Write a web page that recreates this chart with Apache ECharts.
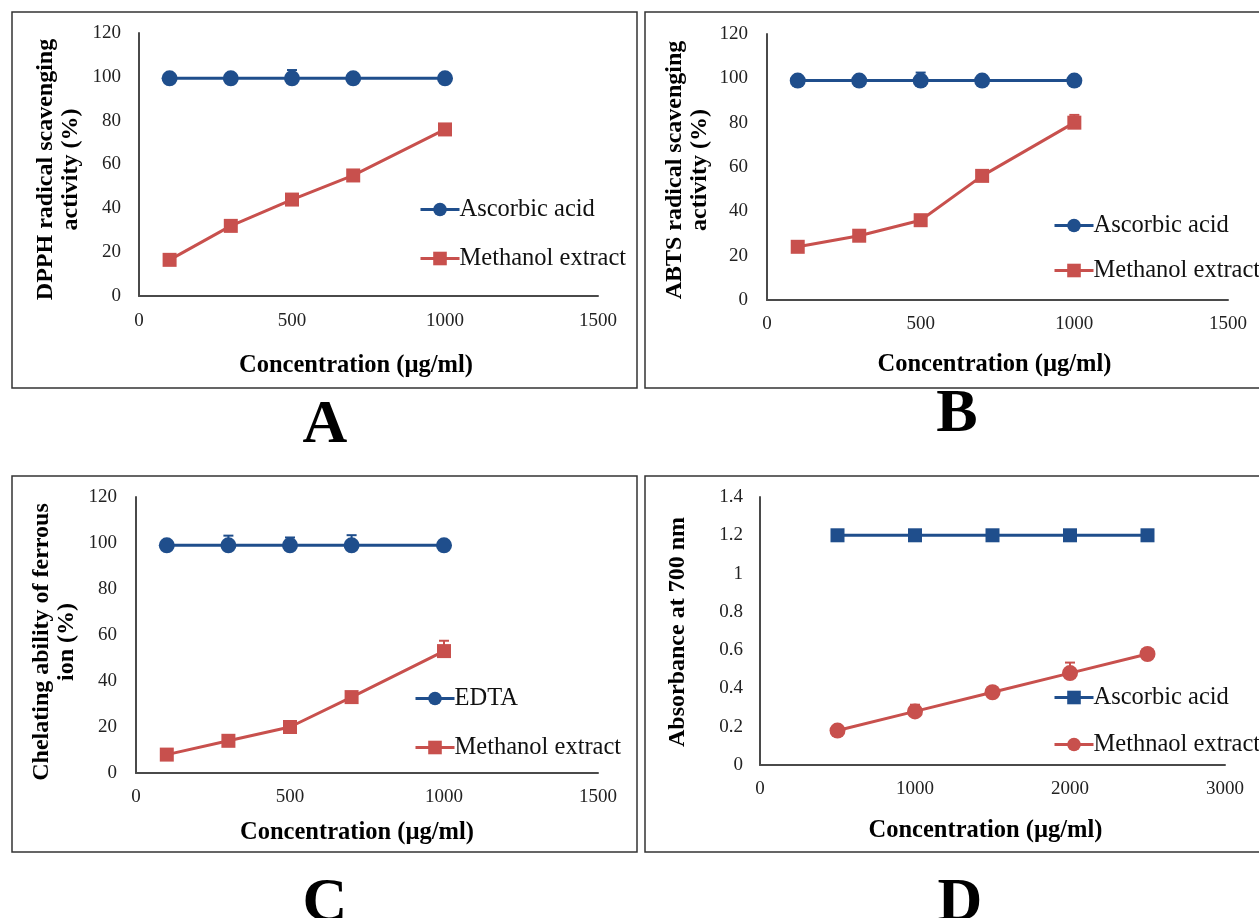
<!DOCTYPE html>
<html>
<head>
<meta charset="utf-8">
<script src="https://cdn.jsdelivr.net/npm/echarts@6/dist/echarts.min.js"></script>
<style>
html,body{margin:0;padding:0;background:#fff;}
#chart{width:1259px;height:918px;}
</style>
</head>
<body>
<div id="chart"></div>
<script>
// ---------- Data ----------
const concABC = [100, 300, 500, 700, 1000];
const concD = [500, 1000, 1500, 2000, 2500];

// Panel A: DPPH
const dpphAscorbic = [99.3, 99.3, 99.3, 99.3, 99.3];
const dpphAscorbicErr = [0.3, 0.3, 3.8, 0.3, 0.3];
const dpphMethanol = [16.5, 32, 44, 55, 76];
const dpphMethanolErr = [0.5, 1, 1, 1, 1];

// Panel B: ABTS
const abtsAscorbic = [99, 99, 99, 99, 99];
const abtsAscorbicErr = [0.3, 0.3, 3.6, 0.3, 0.3];
const abtsMethanol = [24, 29, 36, 56, 80];
const abtsMethanolErr = [1, 0.8, 1, 2.5, 3.5];

// Panel C: Chelating ability of ferrous ion
const chelEDTA = [99, 99, 99, 99, 99];
const chelEDTAErr = [0.3, 4.2, 3.4, 4.4, 0.3];
const chelMethanol = [8, 14, 20, 33, 53];
const chelMethanolErr = [0.5, 1, 0.8, 1.5, 4.5];

// Panel D: Absorbance at 700 nm
const redAscorbic = [1.2, 1.2, 1.2, 1.2, 1.2];
const redAscorbicErr = [0.005, 0.015, 0.005, 0.005, 0.005];
const redMethanol = [0.18, 0.28, 0.38, 0.48, 0.58];
const redMethanolErr = [0.005, 0.035, 0.01, 0.055, 0.01];

const xTicksABC = {min: 0, max: 1500, interval: 500};
const xTicksD = {min: 0, max: 3000, interval: 1000};
const yTicksPct = {min: 0, max: 120, interval: 20};
const yTicksAbs = {min: 0, max: 1.4, interval: 0.2};

const xTitle = 'Concentration (µg/ml)';
const yTitles = ['DPPH radical scavenging\nactivity (%)', 'ABTS radical scavenging\nactivity (%)', 'Chelating ability of ferrous\nion (%)', 'Absorbance at 700 nm'];
const panelLetters = ['A', 'B', 'C', 'D'];

// ---------- Style ----------
const BLUE = '#1F4E8C';
const RED = '#C8504D';
const AXIS = '#4a4a4a';
const FONT = '"Liberation Serif", "Times New Roman", serif';

const grids = [
  {left: 139, top: 33, width: 459, height: 263},
  {left: 767, top: 34, width: 461, height: 266},
  {left: 136, top: 497, width: 462, height: 276},
  {left: 760, top: 497, width: 465, height: 268}
];
const xNameGaps = [57, 52, 47, 53];
const xLabelMargins = [16, 15, 15, 15];
const yLabelMargins = [18, 19, 19, 17];
const yNameGaps = [56, 55, 57, 70];
const xNamePad = [[0, 25, 0, 0], [0, 6, 0, 0], [0, 20, 0, 0], [0, 14, 0, 0]];
const yNamePad = [[0, 10, 0, 0], [0, 6, 0, 0], [0, 14, 0, 0], [0, 2, 0, 0]];

function pairs(xs, ys) { return xs.map((x, i) => [x, ys[i]]); }
function errData(xs, ys, es) { return xs.map((x, i) => [x, ys[i], ys[i] + es[i]]); }
function fmt(v) { return String(Math.round(v * 100) / 100); }

const xAxes = grids.map((g, i) => Object.assign({
  type: 'value', gridIndex: i,
  name: xTitle, nameLocation: 'middle', nameGap: xNameGaps[i],
  nameTextStyle: {fontFamily: FONT, fontWeight: 'bold', fontSize: 24.5, color: '#000', padding: xNamePad[i]},
  axisLine: {show: true, lineStyle: {color: AXIS, width: 2}},
  axisTick: {show: false},
  splitLine: {show: false},
  axisLabel: {fontFamily: FONT, fontSize: 19, color: '#222', margin: xLabelMargins[i], formatter: fmt}
}, i === 3 ? xTicksD : xTicksABC));

const yAxes = grids.map((g, i) => Object.assign({
  type: 'value', gridIndex: i,
  name: yTitles[i], nameLocation: 'middle', nameGap: yNameGaps[i],
  nameTextStyle: {fontFamily: FONT, fontWeight: 'bold', fontSize: 24, color: '#000', lineHeight: 25, padding: yNamePad[i]},
  axisLine: {show: true, lineStyle: {color: AXIS, width: 2}},
  axisTick: {show: false},
  splitLine: {show: false},
  axisLabel: {fontFamily: FONT, fontSize: 19, color: '#222', margin: yLabelMargins[i], formatter: fmt}
}, i === 3 ? yTicksAbs : yTicksPct));

function lineSeries(id, name, idx, xs, ys, color, symbol, size) {
  return {
    id: id, name: name, type: 'line', xAxisIndex: idx, yAxisIndex: idx,
    data: pairs(xs, ys), symbol: symbol, symbolSize: size,
    lineStyle: {color: color, width: 3}, itemStyle: {color: color},
    z: 3, animation: false
  };
}
function errSeries(idx, xs, ys, es, color) {
  return {
    type: 'custom', xAxisIndex: idx, yAxisIndex: idx, z: 2, animation: false,
    data: errData(xs, ys, es),
    renderItem: function (params, api) {
      const lo = api.coord([api.value(0), api.value(1)]);
      const hi = api.coord([api.value(0), api.value(2)]);
      const w = 5;
      const st = {stroke: color, lineWidth: 2};
      return {type: 'group', children: [
        {type: 'line', shape: {x1: lo[0], y1: lo[1], x2: hi[0], y2: hi[1]}, style: st},
        {type: 'line', shape: {x1: hi[0] - w, y1: hi[1], x2: hi[0] + w, y2: hi[1]}, style: st}
      ]};
    }
  };
}

const series = [
  errSeries(0, concABC, dpphAscorbic, dpphAscorbicErr, BLUE),
  errSeries(0, concABC, dpphMethanol, dpphMethanolErr, RED),
  lineSeries('a1', 'A|Ascorbic acid', 0, concABC, dpphAscorbic, BLUE, 'circle', 16),
  lineSeries('a2', 'A|Methanol extract', 0, concABC, dpphMethanol, RED, 'rect', 14),
  errSeries(1, concABC, abtsAscorbic, abtsAscorbicErr, BLUE),
  errSeries(1, concABC, abtsMethanol, abtsMethanolErr, RED),
  lineSeries('b1', 'B|Ascorbic acid', 1, concABC, abtsAscorbic, BLUE, 'circle', 16),
  lineSeries('b2', 'B|Methanol extract', 1, concABC, abtsMethanol, RED, 'rect', 14),
  errSeries(2, concABC, chelEDTA, chelEDTAErr, BLUE),
  errSeries(2, concABC, chelMethanol, chelMethanolErr, RED),
  lineSeries('c1', 'C|EDTA', 2, concABC, chelEDTA, BLUE, 'circle', 16),
  lineSeries('c2', 'C|Methanol extract', 2, concABC, chelMethanol, RED, 'rect', 14),
  errSeries(3, concD, redAscorbic, redAscorbicErr, BLUE),
  errSeries(3, concD, redMethanol, redMethanolErr, RED),
  lineSeries('d1', 'D|Ascorbic acid', 3, concD, redAscorbic, BLUE, 'rect', 14),
  lineSeries('d2', 'D|Methnaol extract', 3, concD, redMethanol, RED, 'circle', 16)
];

const legendPos = [
  {left: 419, top: 197, gap: 24, data: ['A|Ascorbic acid', 'A|Methanol extract']},
  {left: 1053, top: 213, gap: 20, data: ['B|Ascorbic acid', 'B|Methanol extract']},
  {left: 414, top: 686, gap: 24, data: ['C|EDTA', 'C|Methanol extract']},
  {left: 1053, top: 685, gap: 22, data: ['D|Ascorbic acid', 'D|Methnaol extract']}
];
const legends = legendPos.map(p => ({
  left: p.left, top: p.top, orient: 'vertical', data: p.data,
  itemWidth: 39, itemHeight: 17, itemGap: p.gap, padding: 0,
  selectedMode: false,
  lineStyle: {width: 3},
  formatter: n => n.split('|')[1],
  textStyle: {fontFamily: FONT, fontSize: 24.5, color: '#111', padding: [0, 0, 0, -5]}
}));

const boxes = [
  {x: 12, y: 12, width: 625, height: 376},
  {x: 645, y: 12, width: 640, height: 376},
  {x: 12, y: 476, width: 625, height: 376},
  {x: 645, y: 476, width: 640, height: 376}
];
const letterPos = [[325, 426], [957, 415], [325, 904], [960, 904]];

const graphic = boxes.map(b => ({
  type: 'rect', shape: b, silent: true,
  style: {fill: null, stroke: '#333', lineWidth: 1.5}
})).concat(letterPos.map((p, i) => ({
  type: 'text', x: p[0], y: p[1], silent: true,
  style: {text: panelLetters[i], fontFamily: FONT, fontWeight: 'bold', fontSize: 62, fill: '#000', align: 'center', verticalAlign: 'middle'}
})));

const chart = echarts.init(document.getElementById('chart'), null, {renderer: 'canvas'});
chart.setOption({
  backgroundColor: '#fff',
  animation: false,
  grid: grids,
  xAxis: xAxes,
  yAxis: yAxes,
  legend: legends,
  series: series,
  graphic: graphic
});
</script>
</body>
</html>
